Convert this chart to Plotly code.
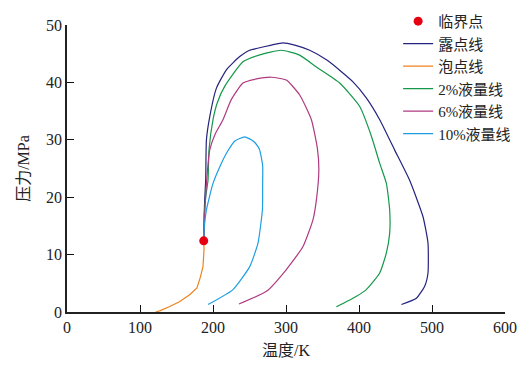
import plotly.graph_objects as go

# critical point
crit_T = [187.3]
crit_P = [12.4]

# dew point line
dew_T = [187.3, 188.0, 188.6, 190.0, 191.0, 195.5, 204.7, 218.4, 236.6, 250.0, 259.5, 280.0,
         295.9, 312.0, 332.5, 357.0, 391.8, 410.0, 428.4, 448.9, 469.5, 487.7, 494.5,
         494.5, 490.0, 478.6, 458.1]
dew_P = [12.4, 17.0, 19.5, 23.0, 30.0, 34.0, 39.0, 42.2, 44.5, 45.6, 45.9, 46.5,
         46.9, 46.5, 45.6, 43.8, 40.1, 37.3, 33.5, 28.2, 22.9, 16.6, 12.0,
         6.8, 4.5, 2.4, 1.3]

# bubble point line
bub_T = [121.5, 127.0, 140.0, 154.0, 168.0, 178.0, 182.5, 186.3, 187.7, 187.3]
bub_P = [0.0, 0.2, 0.9, 1.8, 3.0, 4.2, 6.0, 7.9, 10.9, 12.4]

# 2% liquid line
l2_T = [187.3, 188.0, 190.0, 193.2, 194.5, 200.0, 206.0, 216.0, 241.0, 264.0, 293.7, 318.0,
        341.6, 373.6, 401.0, 416.0, 428.4, 437.5, 442.0, 442.0, 437.5, 428.4, 410.0, 396.0, 369.0]
l2_P = [12.4, 17.0, 20.0, 23.0, 28.2, 33.5, 36.5, 39.3, 43.6, 44.8, 45.6, 44.8,
        42.7, 39.9, 35.8, 31.0, 25.9, 22.4, 17.8, 13.7, 10.3, 6.8, 3.9, 2.7, 0.9]

# 6% liquid line
l6_T = [187.3, 189.0, 191.0, 195.5, 203.0, 213.7, 225.0, 241.0, 259.5, 280.0, 300.5, 318.8,
        334.8, 343.0, 345.0, 341.6, 337.0, 323.3, 300.5, 273.2, 235.6]
l6_P = [12.4, 18.0, 22.4, 28.2, 31.0, 33.5, 37.0, 39.9, 40.6, 40.9, 40.4, 37.8,
        33.5, 28.5, 24.8, 19.5, 16.1, 11.4, 7.4, 3.6, 1.4]

# 10% liquid line
l10_T = [187.3, 187.8, 191.0, 200.0, 210.0, 220.0, 230.0, 243.4, 255.0, 261.6, 264.0, 268.0,
         268.0, 267.7, 261.6, 250.3, 227.4, 193.2]
l10_P = [12.4, 14.3, 17.8, 22.4, 25.5, 28.0, 29.8, 30.5, 29.8, 28.8, 28.2, 25.5,
         22.0, 17.8, 12.0, 7.9, 3.9, 1.3]

x_ticks = [0, 100, 200, 300, 400, 500, 600]
y_ticks = [0, 10, 20, 30, 40, 50]

FONT = "Liberation Serif, Times New Roman, Noto Sans CJK SC"
LW = 1.2
SM = 0.5

fig = go.Figure()
fig.add_trace(go.Scatter(x=dew_T, y=dew_P, mode="lines", name="露点线", legendrank=2,
                         line=dict(color="#24237f", width=LW, shape="spline", smoothing=SM)))
fig.add_trace(go.Scatter(x=bub_T, y=bub_P, mode="lines", name="泡点线", legendrank=3,
                         line=dict(color="#f0821e", width=LW)))
fig.add_trace(go.Scatter(x=l2_T, y=l2_P, mode="lines", name="2%液量线", legendrank=4,
                         line=dict(color="#14984a", width=LW, shape="spline", smoothing=SM)))
fig.add_trace(go.Scatter(x=l6_T, y=l6_P, mode="lines", name="6%液量线", legendrank=5,
                         line=dict(color="#b03a80", width=LW, shape="spline", smoothing=SM)))
fig.add_trace(go.Scatter(x=l10_T, y=l10_P, mode="lines", name="10%液量线", legendrank=6,
                         line=dict(color="#1d9ee3", width=LW, shape="spline", smoothing=SM)))
fig.add_trace(go.Scatter(x=crit_T, y=crit_P, mode="markers", name="临界点", legendrank=1,
                         marker=dict(color="#e60012", size=9, line=dict(width=0))))

fig.update_layout(
    width=529, height=370,
    margin=dict(l=59, r=32, t=17, b=66, autoexpand=False),
    paper_bgcolor="white", plot_bgcolor="white",
    font=dict(family=FONT, size=15, color="#222222"),
    legend=dict(x=0.756, y=1.07, xanchor="left", yanchor="top",
                traceorder="normal", bgcolor="rgba(0,0,0,0)",
                font=dict(family=FONT, size=15, color="#222222"),
                itemwidth=30, tracegroupgap=0),
    showlegend=True,
)

fig.update_xaxes(range=[0, 600], tickvals=x_ticks, ticks="inside", ticklen=7,
                 tickcolor="#111111", showline=True, linecolor="#222222", linewidth=1.5,
                 showgrid=False, zeroline=False, mirror=False,
                 title=dict(text="温度/K", standoff=10, font=dict(size=16)),
                 tickfont=dict(size=16))
fig.update_yaxes(range=[0, 50], tickvals=y_ticks, ticks="inside", ticklen=7,
                 tickcolor="#111111", showline=True, linecolor="#222222", linewidth=1.5,
                 showgrid=False, zeroline=False, mirror=False,
                 title=dict(text="压力/MPa", standoff=12, font=dict(size=16)),
                 tickfont=dict(size=16))

fig.write_html("out.html")
